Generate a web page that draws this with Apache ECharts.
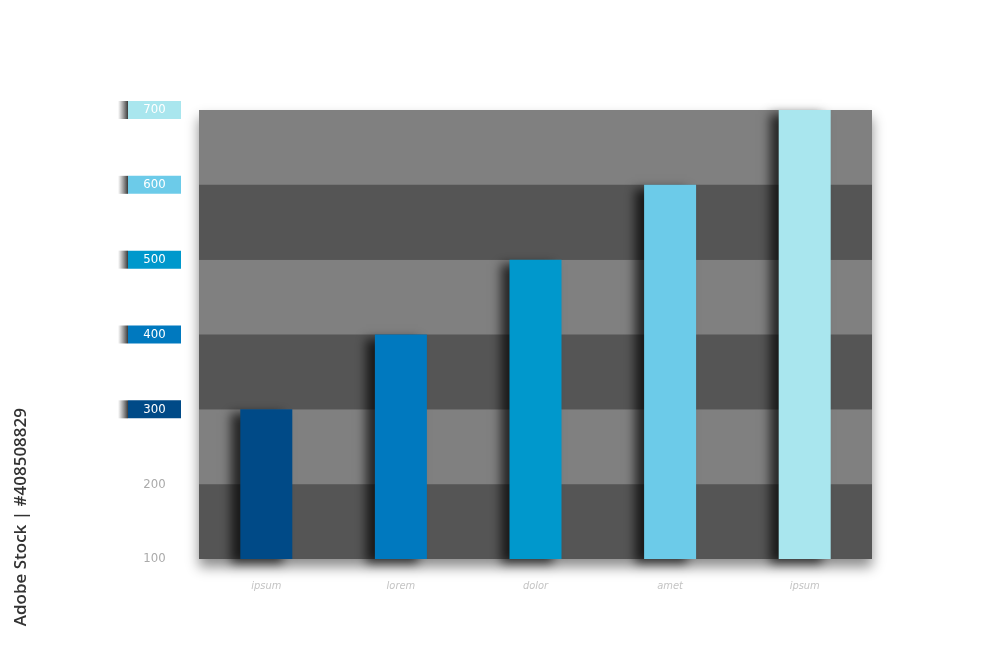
<!DOCTYPE html>
<html>
<head>
<meta charset="utf-8">
<script src="https://cdn.jsdelivr.net/npm/echarts@6/dist/echarts.min.js"></script>
<style>
  html, body { margin: 0; padding: 0; background: #fff; }
  #chart { width: 1000px; height: 652px; }
</style>
</head>
<body>
<div id="chart"></div>
<script>
let categories = ['ipsum', 'lorem', 'dolor', 'amet', 'ipsum'];
let values = [300, 400, 500, 600, 700];
let barColors = ['#004a87', '#0079bf', '#0098cc', '#6ccbe9', '#a9e6ee'];
let tagTicks = [300, 400, 500, 600, 700];

let font = '"DejaVu Sans Condensed", "Liberation Sans Narrow", sans-serif';

// 轴标签样式
let rich = {
  sh: {
    width: 10,
    height: 18,
    backgroundColor: {
      type: 'linear', x: 0, y: 0, x2: 1, y2: 0,
      colorStops: [{offset: 0, color: 'rgba(80,80,80,0)'}, {offset: 1, color: '#3a3a3a'}]
    }
  },
  p: {
    width: 53,
    align: 'center',
    color: '#aaa',
    fontSize: 13,
    fontFamily: font
  }
};
tagTicks.forEach(function (t, i) {
  rich['t' + t] = {
    width: 53,
    height: 18,
    lineHeight: 18,
    align: 'center',
    color: '#fff',
    fontSize: 13,
    fontFamily: font,
    backgroundColor: barColors[i]
  };
});

let chart = echarts.init(document.getElementById('chart'));
chart.setOption({
  backgroundColor: '#fff',
  animation: false,
  grid: {
    left: 199,
    right: 128,
    top: 110,
    bottom: 93,
    show: true,
    borderWidth: 0,
    backgroundColor: '#555555',
    shadowColor: 'rgba(0,0,0,0.45)',
    shadowBlur: 12,
    shadowOffsetX: 0,
    shadowOffsetY: 8
  },
  xAxis: {
    type: 'category',
    data: categories,
    axisLine: {show: false},
    axisTick: {show: false},
    axisLabel: {
      margin: 22,
      color: '#c4c4c4',
      fontStyle: 'italic',
      fontSize: 11,
      fontFamily: font
    }
  },
  yAxis: {
    type: 'value',
    min: 100,
    max: 700,
    interval: 100,
    axisLine: {show: false},
    axisTick: {show: false},
    splitLine: {show: false},
    splitArea: {
      show: true,
      areaStyle: {color: ['#555555', '#808080']}
    },
    axisLabel: {
      margin: 18,
      formatter: function (v) {
        if (tagTicks.indexOf(v) >= 0) return '{sh|}{t' + v + '|' + v + '}';
        return '{p|' + v + '}';
      },
      rich: rich
    }
  },
  series: [{
    type: 'bar',
    barWidth: 52,
    data: values.map(function (v, i) {
      return {
        value: v,
        itemStyle: {
          color: barColors[i],
          shadowColor: 'rgba(0,0,0,0.7)',
          shadowBlur: 10,
          shadowOffsetX: -9,
          shadowOffsetY: 4
        }
      };
    })
  }],
  graphic: [{
    type: 'text',
    left: 13,
    top: 408,
    rotation: Math.PI / 2,
    style: {
      text: 'Adobe Stock | #408508829',
      fill: '#333',
      font: '600 17px "Open Sans", sans-serif'
    }
  }]
});
</script>
</body>
</html>
